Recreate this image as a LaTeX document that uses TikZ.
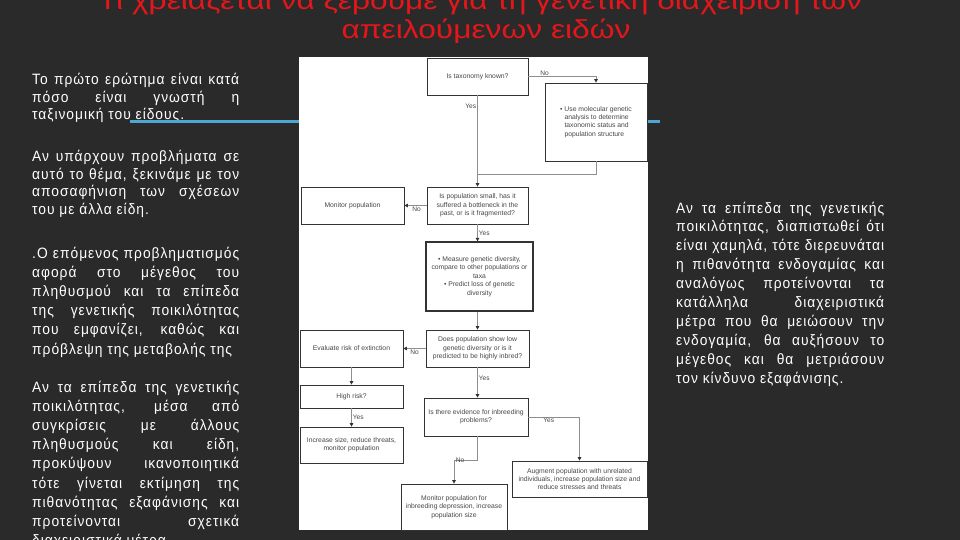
\documentclass[tikz,border=0pt]{standalone}
\usepackage{fontspec}
\setmainfont{Liberation Sans}
\newfontfamily\bodyfont[FakeStretch=0.92,LetterSpace=6.5]{Liberation Sans}
\newfontfamily\titlefont[FakeStretch=1.22]{Liberation Sans}
\usepackage{xcolor}
\usetikzlibrary{arrows.meta,positioning,calc}
\definecolor{BG}{HTML}{2A2A2A}
\definecolor{TR}{HTML}{E3161B}
\definecolor{BL}{HTML}{4EA6D2}
\definecolor{FL}{HTML}{8E8E8E}
\definecolor{FT}{HTML}{474747}

\tikzset{
  ttl/.style={text=TR, inner sep=0pt, font=\titlefont\fontsize{26}{30}\selectfont},
  para/.style={text=white, text width=207pt, align=justify, inner sep=0pt,
    anchor=base west, font=\bodyfont\fontsize{15}{17.4}\selectfont},
  fbox/.style={draw=black!80, fill=white, line width=0.7pt, inner sep=1pt,
    align=center, text=FT, font=\fontsize{6.8}{8.4}\selectfont},
  flink/.style={draw=FL, line width=0.8pt},
  farrow/.style={flink, -{Triangle[length=3.6pt,width=3.6pt,color=black!80]}},
  flab/.style={text=FT, inner sep=1pt, font=\fontsize{6.6}{7}\selectfont}
}

\begin{document}
\begin{tikzpicture}[x=1pt,y=-1pt]
  \useasboundingbox (0,0) rectangle (960,540);
  \fill[BG] (0,0) rectangle (960,540);

  %% title, first line runs off the top
  \node[ttl, anchor=base] (titlea) at (480,10)
    {Τι χρειάζεται να ξέρουμε για τη γενετική διαχείριση των};
  \node[ttl, anchor=base] (titleb) at (486,39) {απειλούμενων ειδών};

  %% left column
  \node[para] (pone) at (32,85)
    {Το πρώτο ερώτημα είναι κατά\linebreak πόσο είναι γνωστή η\linebreak
     ταξινομική του είδους.};
  \node[para] (ptwo) at (32,162)
    {Αν υπάρχουν προβλήματα σε\linebreak αυτό το θέμα, ξεκινάμε με τον\linebreak
     αποσαφήνιση των σχέσεων\linebreak του με άλλα είδη.};
  \node[para, font=\bodyfont\fontsize{15}{19.2}\selectfont] (pthree) at (32,258)
    {.Ο επόμενος προβληματισμός\linebreak αφορά στο μέγεθος του\linebreak
     πληθυσμού και τα επίπεδα\linebreak της γενετικής ποικιλότητας\linebreak
     που εμφανίζει, καθώς και\linebreak πρόβλεψη της μεταβολής της};
  \node[para, font=\bodyfont\fontsize{15}{19.2}\selectfont] (pfour) at (32,392)
    {Αν τα επίπεδα της γενετικής\linebreak ποικιλότητας, μέσα από\linebreak
     συγκρίσεις με άλλους\linebreak πληθυσμούς και είδη,\linebreak
     προκύψουν ικανοποιητικά\linebreak τότε γίνεται εκτίμηση της\linebreak
     πιθανότητας εξαφάνισης και\linebreak προτείνονται σχετικά\linebreak
     διαχειριστικά μέτρα.};

  %% right column
  \node[para, text width=208pt, font=\bodyfont\fontsize{15}{18.9}\selectfont] (pright)
    at (676,213)
    {Αν τα επίπεδα της γενετικής\linebreak ποικιλότητας, διαπιστωθεί ότι\linebreak
     είναι χαμηλά, τότε διερευνάται\linebreak η πιθανότητα ενδογαμίας και\linebreak
     αναλόγως προτείνονται τα\linebreak κατάλληλα διαχειριστικά\linebreak
     μέτρα που θα μειώσουν την\linebreak ενδογαμία, θα αυξήσουν το\linebreak
     μέγεθος και θα μετριάσουν\linebreak τον κίνδυνο εξαφάνισης.};

  %% blue rule
  \draw[BL, line width=3pt] (130,122) -- (660,122);

  %% flowchart sheet
  \fill[white] (299,57) rectangle (648,530);

  \node[fbox, minimum width=101pt, minimum height=37pt] (taxq) at (477.5,76.5)
    {Is taxonomy known?};
  \node[fbox, minimum width=102pt, minimum height=78pt] (molec) at (596,122)
    {};
  \node[fbox, draw=none, fill=none, align=left] (molectxt) at (molec.center)
    {\textbullet\ Use molecular genetic\\
     \hphantom{\textbullet\ }analysis to determine\\
     \hphantom{\textbullet\ }taxonomic status and\\
     \hphantom{\textbullet\ }population structure};
  \node[fbox, minimum width=101pt, minimum height=37pt] (smallq) at (477.5,205.5)
    {Is population small, has it\\suffered a bottleneck in the\\past, or is it fragmented?};
  \node[fbox, minimum width=103pt, minimum height=37pt] (monpop) at (352.5,205.5)
    {Monitor population};
  \node[fbox, line width=1.3pt, minimum width=107pt, minimum height=69pt] (measure)
    at (479.5,276.5)
    {\textbullet\ Measure genetic diversity,\\compare to other populations or\\taxa\\
     \textbullet\ Predict loss of genetic\\diversity};
  \node[fbox, minimum width=103pt, minimum height=37pt] (lowdivq) at (477.5,348.5)
    {Does population show low\\genetic diversity or is it\\predicted to be highly inbred?};
  \node[fbox, minimum width=103pt, minimum height=37pt] (evalrisk) at (351.5,348.5)
    {Evaluate risk of extinction};
  \node[fbox, minimum width=103pt, minimum height=23pt] (highrisk) at (351.5,396.5)
    {High risk?};
  \node[fbox, minimum width=103pt, minimum height=36pt] (increase) at (351.5,445)
    {Increase size, reduce threats,\\monitor population};
  \node[fbox, minimum width=104pt, minimum height=38pt] (inbreedq) at (476,417)
    {Is there evidence for inbreeding\\problems?};
  \node[fbox, minimum width=135pt, minimum height=36pt] (augment) at (579.5,479)
    {Augment population with unrelated\\individuals, increase population size and\\
     reduce stresses and threats};
  \node[fbox, minimum width=106pt, minimum height=46pt] (monbreed) at (454,507)
    {Monitor population for\\inbreeding depression, increase\\population size};

  %% connectors
  \coordinate (merge) at ($(taxq.south)+(0,79)$);
  \draw[farrow] (taxq.east) -| (molec.north)
    node[flab, pos=0.12, above] (lno1) {No};
  \draw[farrow] (taxq.south) -- (smallq.north)
    node[flab, pos=0.12, left] (lyes1) {Yes};
  \draw[flink] (molec.south) |- (merge);
  \draw[farrow] (smallq.west) -- (monpop.east)
    node[flab, pos=0.45, below] (lno2) {No};
  \draw[farrow] (smallq.south) -- (measure.north -| smallq.south)
    node[flab, midway, right] (lyes2) {Yes};
  \draw[farrow] (measure.south -| smallq.south) -- (lowdivq.north -| smallq.south);
  \draw[farrow] (lowdivq.west) -- (evalrisk.east)
    node[flab, pos=0.5, below] (lno3) {No};
  \draw[farrow] (evalrisk.south) -- (highrisk.north);
  \draw[farrow] (highrisk.south) -- (increase.north)
    node[flab, midway, right] (lyes3) {Yes};
  \draw[farrow] (lowdivq.south -| smallq.south) -- (inbreedq.north -| smallq.south)
    node[flab, pos=0.35, right] (lyes4) {Yes};
  \draw[farrow] (inbreedq.east) -| (augment.north)
    node[flab, pos=0.2, below] (lyes5) {Yes};
  \draw[farrow] (inbreedq.south -| smallq.south) -- ++(0,24) -| (monbreed.north)
    node[flab, pos=0.25, left] (lno4) {No};
\end{tikzpicture}
\end{document}
